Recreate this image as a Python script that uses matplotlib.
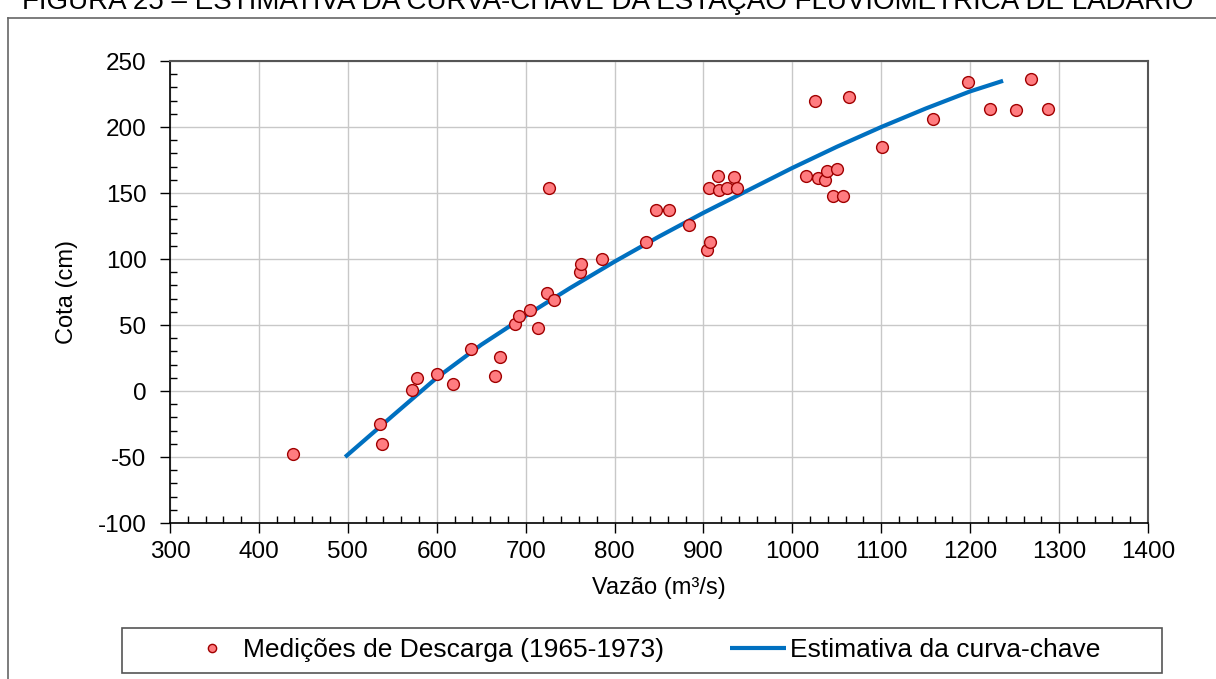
from matplotlib import pyplot as plt
from matplotlib.lines import Line2D
from matplotlib.patches import Rectangle
from matplotlib.ticker import MultipleLocator

plt.rcParams["font.family"] = ["Liberation Sans", "DejaVu Sans"]
plt.rcParams["axes.unicode_minus"] = False

# discharge measurements (m3/s) and stage (cm)
vazao_medida = [
    438, 536, 539, 572, 578, 600, 618, 639, 666, 671, 688, 693, 705, 714,
    724, 726, 732, 761, 762, 786, 835, 847, 861, 884, 904, 907, 906, 916,
    918, 926, 934, 938, 1015, 1026, 1029, 1037, 1039, 1046, 1050, 1057,
    1064, 1101, 1158, 1198, 1222, 1252, 1268, 1287,
]
cota_medida = [
    -48, -25, -40, 1, 10, 13, 5, 32, 11, 26, 51, 57, 61, 48,
    74, 154, 69, 90, 96, 100, 113, 137, 137, 126, 107, 113, 154, 163,
    152, 154, 162, 154, 163, 220, 161, 160, 167, 148, 168, 148,
    223, 185, 206, 234, 214, 213, 236, 214,
]

# rating curve
vazao_curva = [497, 550, 600, 650, 700, 750, 800, 850, 900, 950, 1000,
               1050, 1100, 1150, 1200, 1237]
cota_curva = [-50, -19, 10, 35, 57, 78, 98, 117, 135, 152, 169,
              185, 200, 214, 227, 235]

titulo = "FIGURA 25 – ESTIMATIVA DA CURVA-CHAVE DA ESTAÇÃO FLUVIOMÉTRICA DE LADÁRIO"


def main():
    W, H = 1216, 679
    fig = plt.figure(figsize=(W / 100, H / 100), dpi=100)
    ax = fig.add_axes([170 / W, 1 - 523 / H, (1148 - 170) / W, (523 - 61) / H])

    ax.plot(vazao_curva, cota_curva, color="#0070C0", lw=3,
            solid_capstyle="butt", label="Estimativa da curva-chave", zorder=3)
    ax.plot(vazao_medida, cota_medida, "o", ms=8.5, mfc="#FF7C80",
            mec="#A00000", mew=1.0, label="Medições de Descarga (1965-1973)",
            zorder=4)

    ax.set_xlim(300, 1400)
    ax.set_ylim(-100, 250)
    ax.xaxis.set_major_locator(MultipleLocator(100))
    ax.xaxis.set_minor_locator(MultipleLocator(20))
    ax.yaxis.set_major_locator(MultipleLocator(50))
    ax.yaxis.set_minor_locator(MultipleLocator(10))
    ax.grid(True, which="major", color="#C8C8C8", lw=1)
    ax.set_axisbelow(True)

    ax.tick_params(which="major", direction="out", length=7, width=1,
                   labelsize=17.5, colors="black")
    ax.tick_params(which="minor", direction="in", length=5, width=1)
    ax.tick_params(axis="x", which="major", pad=6)
    ax.tick_params(axis="y", which="major", pad=10)

    for s in ["left", "bottom"]:
        ax.spines[s].set_color("black")
        ax.spines[s].set_linewidth(1.2)
    for s in ["top", "right"]:
        ax.spines[s].set_color("#555555")
        ax.spines[s].set_linewidth(1.5)

    ax.set_xlabel("Vazão (m³/s)", fontsize=17, labelpad=10)
    ax.set_ylabel("Cota (cm)", fontsize=17, labelpad=14)

    # legend, frame drawn separately
    handles, labels = ax.get_legend_handles_labels()
    fig.legend(handles[::-1], labels[::-1], loc="center",
               bbox_to_anchor=((122 + 1162) / 2 / W, 1 - 650 / H),
               ncol=2, frameon=False, fontsize=19, handlelength=2.1,
               handletextpad=0.15, columnspacing=2.5, markerscale=0.7)
    fig.add_artist(Rectangle((122 / W, 1 - 673 / H), 1040 / W, 45 / H,
                             transform=fig.transFigure, fill=False,
                             ec="#555555", lw=1.2))

    # outer frame (cropped) and clipped caption
    fig.add_artist(Line2D([8 / W, 8 / W], [0, 1 - 18 / H],
                          transform=fig.transFigure, color="#666666", lw=1.2))
    fig.add_artist(Line2D([8 / W, 1], [1 - 18 / H, 1 - 18 / H],
                          transform=fig.transFigure, color="#666666", lw=1.2))
    fig.text(0.5, 1 - 9 / H, titulo, ha="center", va="baseline", fontsize=20)

    fig.savefig("out.png", dpi=100)


if __name__ == "__main__":
    main()
